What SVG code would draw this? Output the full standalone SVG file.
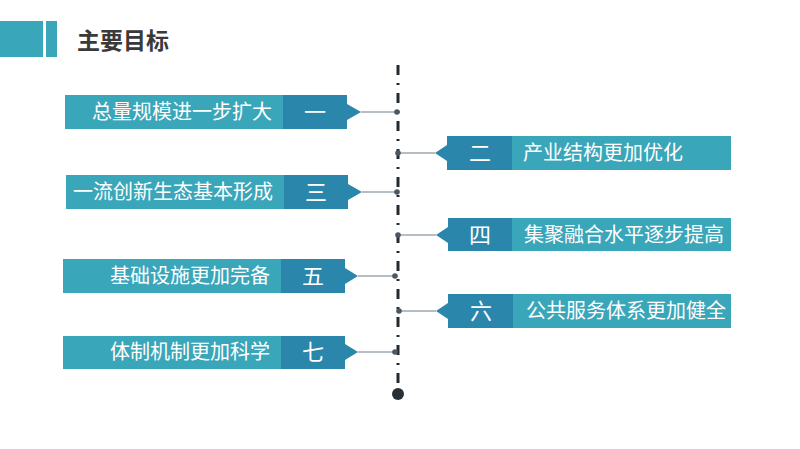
<svg xmlns="http://www.w3.org/2000/svg" width="800" height="449" viewBox="0 0 800 449">
<style>
.light{fill:#3aa6ba}
.dark{fill:#2a86ab}
.lbl{font-family:"Noto Sans CJK SC","Liberation Sans",sans-serif;font-size:20px;fill:#ffffff}
.num{font-family:"Noto Sans CJK SC","Liberation Sans",sans-serif;font-size:22px;fill:#ffffff;text-anchor:middle}
.conn{stroke:#9ea9af;stroke-width:1.5;fill:none}
.dot{fill:#4b5863}
</style>
<rect width="800" height="449" fill="#ffffff"/>
<g id="title">
<rect x="0" y="21" width="43" height="36" class="light"/>
<rect x="46" y="21" width="11" height="36" class="light"/>
<text x="77" y="49" font-family="'Noto Sans CJK SC','Liberation Sans',sans-serif" font-size="23" font-weight="bold" fill="#3a3a3a">主要目标</text>
</g>
<g id="connectors">
<line x1="398" y1="65" x2="398" y2="388" stroke="#222a30" stroke-width="3" stroke-dasharray="10 8 2 8"/>
<circle cx="398" cy="394" r="6" fill="#263036"/>
<line x1="361" y1="112" x2="397" y2="112" class="conn"/>
<circle cx="397" cy="112" r="2.8" class="dot"/>
<line x1="398" y1="153" x2="435" y2="153" class="conn"/>
<circle cx="398" cy="153" r="2.8" class="dot"/>
<line x1="362" y1="192" x2="397" y2="192" class="conn"/>
<circle cx="397" cy="192" r="2.8" class="dot"/>
<line x1="398" y1="235" x2="436" y2="235" class="conn"/>
<circle cx="398" cy="235" r="2.8" class="dot"/>
<line x1="358" y1="276" x2="395" y2="276" class="conn"/>
<circle cx="395" cy="276" r="2.8" class="dot"/>
<line x1="399" y1="311" x2="436" y2="311" class="conn"/>
<circle cx="399" cy="311" r="2.8" class="dot"/>
<line x1="358" y1="352" x2="395" y2="352" class="conn"/>
<circle cx="395" cy="352" r="2.8" class="dot"/>
</g>
<g id="node1">
<rect x="65" y="95" width="218" height="34" class="light"/>
<path d="M283 95H347V104L361 112L347 120V129H283Z" class="dark"/>
<text x="272" y="119" class="lbl" text-anchor="end">总量规模进一步扩大</text>
<text x="315" y="120" class="num">一</text>
</g>
<g id="node2">
<rect x="512" y="136" width="219" height="34" class="light"/>
<path d="M512 136H447V145L435 153L447 161V170H512Z" class="dark"/>
<text x="523" y="160" class="lbl">产业结构更加优化</text>
<text x="480" y="161" class="num">二</text>
</g>
<g id="node3">
<rect x="66" y="175" width="218" height="34" class="light"/>
<path d="M284 175H348V184L362 192L348 200V209H284Z" class="dark"/>
<text x="273" y="199" class="lbl" text-anchor="end">一流创新生态基本形成</text>
<text x="316" y="200" class="num">三</text>
</g>
<g id="node4">
<rect x="512" y="218" width="219" height="33" class="light"/>
<path d="M512 218H448V227L436 235L448 243V251H512Z" class="dark"/>
<text x="524" y="242" class="lbl">集聚融合水平逐步提高</text>
<text x="480" y="243" class="num">四</text>
</g>
<g id="node5">
<rect x="63" y="259" width="218" height="34" class="light"/>
<path d="M281 259H345V268L358 276L345 284V293H281Z" class="dark"/>
<text x="270" y="283" class="lbl" text-anchor="end">基础设施更加完备</text>
<text x="313" y="284" class="num">五</text>
</g>
<g id="node6">
<rect x="513" y="294" width="218" height="34" class="light"/>
<path d="M513 294H448V303L436 311L448 319V328H513Z" class="dark"/>
<text x="526" y="318" class="lbl">公共服务体系更加健全</text>
<text x="481" y="319" class="num">六</text>
</g>
<g id="node7">
<rect x="63" y="336" width="218" height="33" class="light"/>
<path d="M281 336H345V344L358 352L345 360V369H281Z" class="dark"/>
<text x="270" y="359" class="lbl" text-anchor="end">体制机制更加科学</text>
<text x="313" y="360" class="num">七</text>
</g>
</svg>
